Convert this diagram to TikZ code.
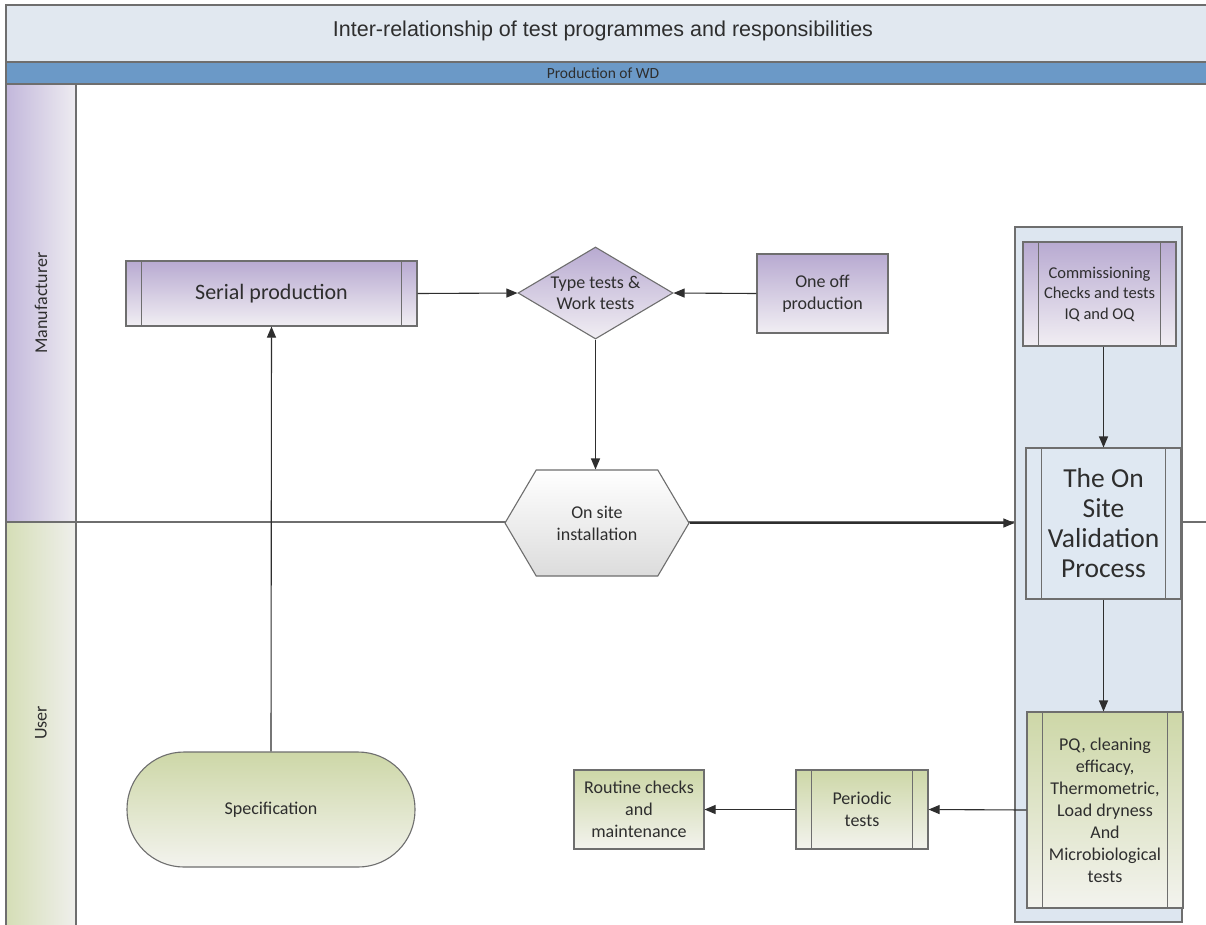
\documentclass[tikz,border=0pt]{standalone}
\usepackage{fontspec}
\setmainfont{Carlito}
\newfontfamily\titlefont{Liberation Sans}
\usetikzlibrary{arrows.meta, positioning, shapes.geometric, shapes.symbols}
\definecolor{titlebg} {HTML}{E1E8F0}
\definecolor{bandblue}{HTML}{6B99C7}
\definecolor{frameln} {HTML}{6E6E6E}
\definecolor{ink}     {HTML}{2E2E2E}
\definecolor{lanemanl}{HTML}{C2B7DB}
\definecolor{lanemanr}{HTML}{EEECF1}
\definecolor{laneusrl}{HTML}{D5DEB6}
\definecolor{laneusrr}{HTML}{EFEFEC}
\definecolor{mantop}  {HTML}{B8AAD1}
\definecolor{manbot}  {HTML}{F1EEF3}
\definecolor{usrtop}  {HTML}{CDD7A7}
\definecolor{usrbot}  {HTML}{F3F3EE}
\definecolor{hexbot}  {HTML}{DCDCDC}
\definecolor{groupbg} {HTML}{DDE6F0}
\definecolor{validbg} {HTML}{DFE8F2}

\tikzset{
  frame/.style={draw=frameln, line width=1.2pt},
  box/.style={draw=frameln, line width=1.1pt, text=ink, align=center,
    inner sep=2pt, font=\fontsize{18}{22}\selectfont},
  manbox/.style={box, top color=mantop, bottom color=manbot},
  usrbox/.style={box, top color=usrtop, bottom color=usrbot},
  flow/.style={draw=ink, line width=1.1pt, -{Triangle[length=11pt,width=9pt]}},
  lanetext/.style={rotate=90, text=ink, font=\fontsize{18}{22}\selectfont},
}

\begin{document}
\begin{tikzpicture}[x=1pt, y=-1pt]
  \useasboundingbox (0,0) rectangle (1206,924);
  \fill[white] (0,0) rectangle (1206,924);

  % title bands and swimlanes
  \fill[titlebg] (6,5) rectangle (1212,62);
  \fill[bandblue] (6,62) rectangle (1212,84);
  \shade[left color=lanemanl, right color=lanemanr] (6,84) rectangle (76,522);
  \shade[left color=laneusrl, right color=laneusrr] (6,522) rectangle (76,930);
  \draw[frame] (1212,5) -- (6,5) -- (6,930)
               (6,62) -- (1212,62) (6,84) -- (1212,84)
               (76,84) -- (76,930) (6,522) -- (1212,522);
  \node[text=ink, font=\titlefont\fontsize{21.5}{24}\selectfont] (title) at (603,31)
    {Inter-relationship of test programmes and responsibilities};
  \node[text=ink, font=\fontsize{15.5}{18}\selectfont] (band) at (603,73) {Production of WD};
  \node[lanetext] (manlab) at (41,303) {Manufacturer};
  \node[lanetext] (usrlab) at (41,723) {User};

  % validation group
  \node[draw=frameln, line width=1.1pt, fill=groupbg, minimum width=167pt,
        minimum height=695pt] (valgroup) at (1098.5,574.5) {};

  % manufacturer nodes
  \node[manbox, minimum width=291pt, minimum height=65pt,
        font=\fontsize{22}{26}\selectfont] (serial) at (271.5,293.5) {Serial production};
  \node[manbox, diamond, inner sep=0pt, aspect=1.68, minimum width=155pt,
        minimum height=92pt,
        label={[text=ink, align=center, font=\fontsize{18}{21}\selectfont]center:Type tests \&\\Work tests}]
        (tests) at (595.5,293) {};
  \node[manbox, minimum width=131pt, minimum height=79pt] (oneoff) at (822.5,293.5) {One off\\production};
  \node[manbox, minimum width=153pt, minimum height=104pt,
        font=\fontsize{16.5}{20.5}\selectfont] (commis) at (1099.5,294)
        {Commissioning\\Checks and tests\\IQ and OQ};
  \node[box, signal, signal to=east and west, signal pointer angle=119,
        top color=white, bottom color=hexbot, minimum width=184pt,
        minimum height=106pt] (hex) at (597,523) {On site\\installation};
  \node[box, fill=validbg, minimum width=155pt, minimum height=151pt,
        font=\fontsize{27.5}{30}\selectfont] (valid) at (1103.5,523.5)
        {The On\\Site\\Validation\\Process};

  % user nodes
  \node[usrbox, rounded corners=57pt, minimum width=288pt, minimum height=115pt]
        (spec) at (271,809.5) {Specification};
  \node[usrbox, minimum width=156pt, minimum height=196pt] (pq) at (1105,810)
        {PQ, cleaning\\efficacy,\\Thermometric,\\Load dryness\\And\\Microbiological\\tests};
  \node[usrbox, minimum width=132pt, minimum height=79pt] (periodic) at (862,809.5) {Periodic\\tests};
  \node[usrbox, minimum width=130pt, minimum height=79pt] (routine) at (639,809.5)
        {Routine checks\\and\\maintenance};

  % side bars of the sub-process boxes
  \foreach \n in {serial, commis, valid, pq, periodic}
    {\draw[frameln, line width=1.1pt]
       ([xshift=16pt]\n.north west) -- ([xshift=16pt]\n.south west)
       ([xshift=-16pt]\n.north east) -- ([xshift=-16pt]\n.south east);}

  % connectors
  \draw[flow] (spec.north) -- (serial.south);
  \draw[flow] (serial.east) -- (tests.west);
  \draw[flow] (oneoff.west) -- (tests.east);
  \draw[flow] (tests.south) -- (hex.north -| tests.south);
  \draw[flow] (hex.east) -- (hex.east -| valgroup.west);
  \draw[flow] (valid.north |- commis.south) -- (valid.north);
  \draw[flow] (valid.south) -- (valid.south |- pq.north);
  \draw[flow] (pq.west) -- (periodic.east);
  \draw[flow] (periodic.west) -- (routine.east);
\end{tikzpicture}
\end{document}
